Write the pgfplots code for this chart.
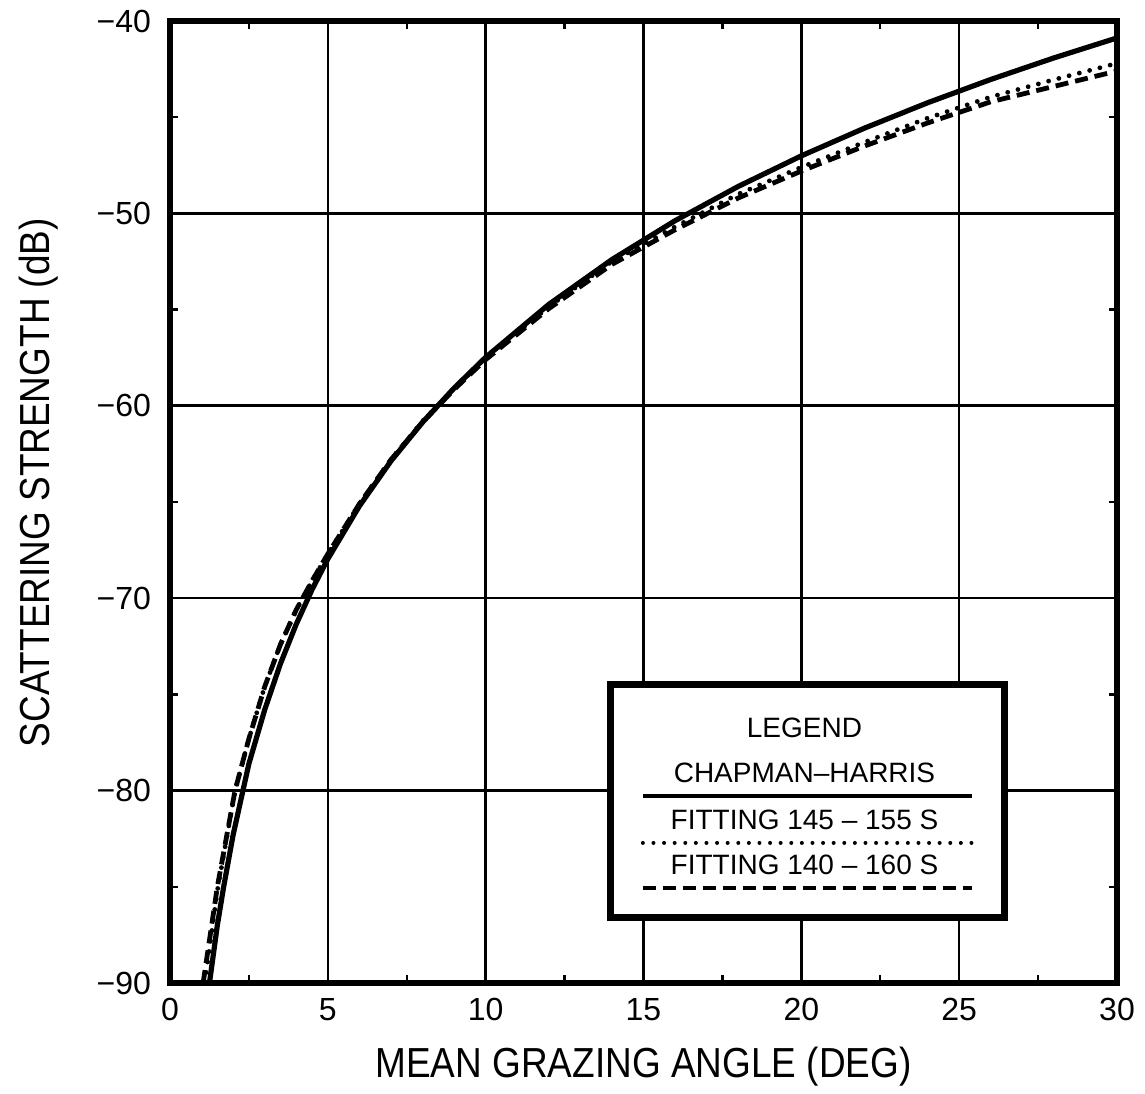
\documentclass[border=0pt]{standalone}
\usepackage{fontspec}
\setmainfont{Liberation Sans}
\newfontfamily\labelfont[FakeStretch=0.88]{Liberation Sans}
\usepackage{pgfplots}
\pgfplotsset{compat=1.18}
\usetikzlibrary{calc}

\begin{document}
\begin{tikzpicture}
\begin{axis}[
	name=ax,
	scale only axis,
	width=473.5bp, height=481bp,
	xmin=0, xmax=30, ymin=-90, ymax=-40,
	xtick={0,5,...,30},
	ytick={-90,-80,...,-40},
	yticklabels={−90,−80,−70,−60,−50,−40},
	minor x tick num=1,
	minor y tick num=1,
	tick align=inside,
	major tick length=0pt,
	minor tick length=4bp,
	every minor tick/.style={line width=1.2bp, black},
	grid=major,
	major grid style={line width=1.3bp, black},
	axis line style={line width=3bp},
	/pgf/number format/assume math mode=true,
	tick label style={font=\fontsize{16bp}{18bp}\selectfont},
	xticklabel style={yshift=-4bp},
	yticklabel style={xshift=-6bp},
	xlabel={\labelfont\fontsize{21bp}{24bp}\selectfont MEAN GRAZING ANGLE (DEG)},
	ylabel={\labelfont\fontsize{21bp}{24bp}\selectfont SCATTERING STRENGTH (dB)},
	xlabel style={at={($(rel axis cs:0.5,0)+(0,-47bp)$)}, anchor=base},
	ylabel style={at={($(rel axis cs:0,0.52)+(-60bp,0)$)}, anchor=base, rotate=0},
]
% Chapman-Harris
\addplot[line width=2.6bp, black] coordinates {
(1.25,-90) (1.5,-87) (1.7,-85) (2,-82.3) (2.5,-78.6) (3,-75.8) (3.5,-73.4)
(4,-71.35) (4.5,-69.55) (5,-67.96) (6,-65.21) (7,-62.87) (8,-60.86)
(9,-59.08) (10,-57.48) (12,-54.73) (14,-52.4) (16,-50.38) (18,-48.6)
(20,-47.01) (22,-45.57) (24,-44.25) (26,-43.04) (28,-41.92) (30,-40.88)
};
% fitting 145-155 s
\addplot[line width=2.4bp, black, line cap=round, dash pattern=on 0pt off 5.3bp] coordinates {
(1.1,-90) (1.5,-85.2) (2.06,-80) (2.5,-77.3) (3,-74.6) (3.5,-72.4)
(4,-70.6) (4.5,-69.1) (5,-67.7) (6,-65.1) (7,-62.8) (8,-60.8) (9,-59.1)
(10,-57.55) (12,-54.85) (14,-52.5) (16,-50.7) (18,-49.0) (20,-47.6)
(22,-46.3) (24,-45.05) (26,-43.95) (28,-43.05) (30,-42.2)
};
% fitting 140-160 s
\addplot[line width=2.4bp, black, dash pattern=on 6.5bp off 3.5bp] coordinates {
(1.05,-90) (1.5,-85) (2.06,-80) (2.5,-77.3) (3,-74.6) (3.5,-72.4)
(4,-70.6) (4.5,-69.1) (5,-67.7) (6,-65.1) (7,-62.8) (8,-60.85) (9,-59.15)
(10,-57.6) (12,-54.95) (14,-52.65) (16,-50.85) (18,-49.2) (20,-47.8)
(22,-46.5) (24,-45.3) (26,-44.2) (28,-43.4) (30,-42.6)
};
% legend box
\draw[line width=3.5bp, fill=white] (axis cs:13.94,-74.46) rectangle (axis cs:26.45,-86.62);
\node[font=\fontsize{14bp}{16bp}\selectfont] at (axis cs:20.1,-76.75) {LEGEND};
\node[font=\fontsize{14bp}{16bp}\selectfont] at (axis cs:20.1,-79.09) {CHAPMAN–HARRIS};
\draw[line width=2bp] (axis cs:14.98,-80.28) -- (axis cs:25.4,-80.28);
\node[font=\fontsize{14bp}{16bp}\selectfont] at (axis cs:20.1,-81.53) {FITTING 145 – 155 S};
\draw[line width=2bp, line cap=round, dash pattern=on 0pt off 5.3bp] (axis cs:14.98,-82.72) -- (axis cs:25.4,-82.72);
\node[font=\fontsize{14bp}{16bp}\selectfont] at (axis cs:20.1,-83.87) {FITTING 140 – 160 S};
\draw[line width=2bp, dash pattern=on 6.5bp off 3.5bp] (axis cs:14.98,-85.06) -- (axis cs:25.4,-85.06);
\end{axis}
\path ($(ax.south west)+(-85bp,-55.5bp)$) rectangle ($(ax.north east)+(14bp,10.5bp)$);
\end{tikzpicture}
\end{document}
